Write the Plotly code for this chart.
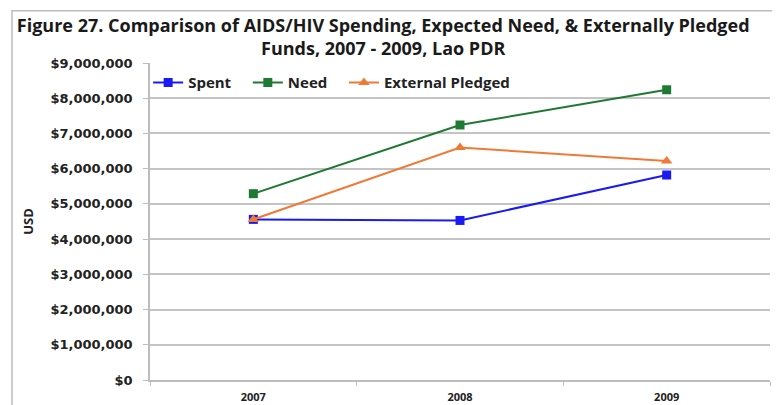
import plotly.graph_objects as go

years = ["2007", "2008", "2009"]
spent = [4560000, 4530000, 5820000]
need = [5290000, 7240000, 8240000]
pledged = [4560000, 6600000, 6220000]
y_ticks = [0, 1000000, 2000000, 3000000, 4000000, 5000000, 6000000, 7000000, 8000000, 9000000]

pad = "\u00a0" * 3  # extra room between legend entries

fig = go.Figure()

fig.add_trace(go.Scatter(
    x=years, y=spent, name="Spent" + pad, mode="lines+markers",
    line=dict(color="#1A1AF5", width=2),
    marker=dict(symbol="square", size=9, color="#1A1AF5"),
))
fig.add_trace(go.Scatter(
    x=years, y=need, name="Need" + pad, mode="lines+markers",
    line=dict(color="#1E7A32", width=2),
    marker=dict(symbol="square", size=9, color="#1E7A32"),
))
fig.add_trace(go.Scatter(
    x=years, y=pledged, name="External Pledged", mode="lines+markers",
    line=dict(color="#F07A35", width=2),
    marker=dict(symbol="triangle-up", size=10, color="#F07A35"),
))

# the page body adds an 8px offset, so the figure is 8px smaller than the window
fig.update_layout(
    width=772, height=397,
    margin=dict(l=142, r=10, t=55, b=25, autoexpand=False),
    paper_bgcolor="white", plot_bgcolor="white",
    font=dict(family="Open Sans", color="#222222"),
    title=dict(
        text="Figure 27. Comparison of AIDS/HIV Spending, Expected Need, & Externally Pledged<br>Funds, 2007 - 2009, Lao PDR",
        x=0.486, xanchor="center", y=0.94, yanchor="middle",
        font=dict(family="Open Sans", size=18, weight="bold", color="#1a1a1a"),
    ),
    legend=dict(
        orientation="h", x=-0.003, y=0.99, xanchor="left", yanchor="top",
        bgcolor="rgba(0,0,0,0)",
        font=dict(family="Open Sans", size=15, weight="bold", color="#222222"),
        itemwidth=30, tracegroupgap=0,
    ),
    showlegend=True,
)

fig.update_xaxes(
    type="category",
    range=[-0.5, 2.5],
    automargin=False,
    showgrid=False,
    showline=True, linecolor="#BDBDBD", linewidth=1.5,
    ticks="outside", tickson="boundaries", ticklen=4, tickcolor="#BDBDBD",
    tickfont=dict(family="Open Sans", size=11, weight="bold", color="#222222"),
    ticklabelstandoff=6,
)

fig.update_yaxes(
    range=[0, 9000000],
    automargin=False,
    tickvals=y_ticks,
    tickformat="$,.0f",
    showgrid=True, gridcolor="#C4C4C4", gridwidth=1.5,
    showline=True, linecolor="#BDBDBD", linewidth=1.5,
    ticks="outside", ticklen=5, tickcolor="#BDBDBD",
    tickfont=dict(family="DejaVu Sans", size=13, weight="bold", color="#222222"),
    ticklabelstandoff=8,
    title=dict(text="USD", standoff=14,
               font=dict(family="Open Sans", size=13, weight="bold", color="#222222")),
    zeroline=False,
)

# outer frame of the figure
fig.add_shape(type="rect", xref="paper", yref="paper",
              x0=-0.2226, x1=1.005, y0=-0.2, y1=1.165,
              line=dict(color="#BDBDBD", width=1.5), layer="below")

fig.write_html("out.html")
